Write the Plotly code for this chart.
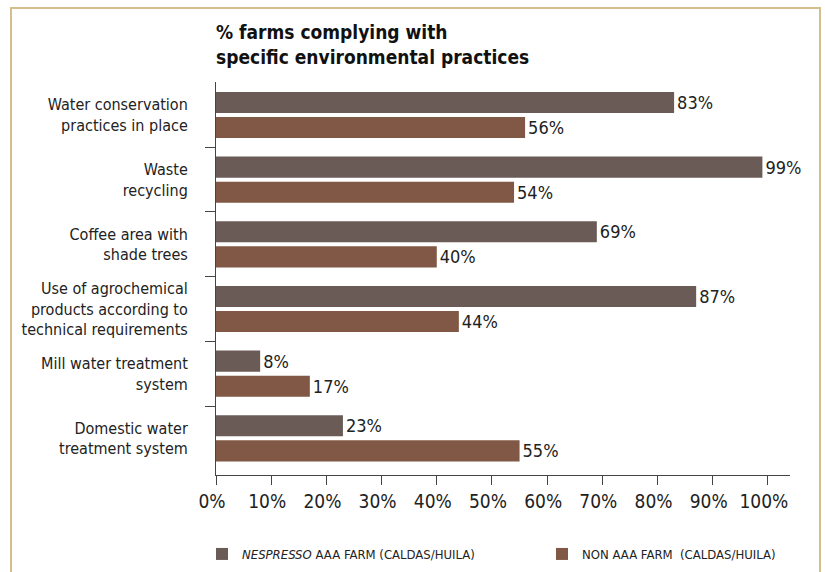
import plotly.graph_objects as go

categories = [
    "Water conservation<br>practices in place",
    "Waste<br>recycling",
    "Coffee area with<br>shade trees",
    "Use of agrochemical<br>products according to<br>technical requirements",
    "Mill water treatment<br>system",
    "Domestic water<br>treatment system",
]
aaa_values = [83, 99, 69, 87, 8, 23]
non_aaa_values = [56, 54, 40, 44, 17, 55]
series_names = ["<i>NESPRESSO</i> AAA FARM (CALDAS/HUILA)", "NON AAA FARM  (CALDAS/HUILA)"]
x_ticks = [0, 10, 20, 30, 40, 50, 60, 70, 80, 90, 100]
x_tick_labels = [f"{v}%" for v in x_ticks]

FONT = "Liberation Sans Narrow, DejaVu Sans Condensed, Arial Narrow, sans-serif"
positions = list(range(len(categories)))

W, H = 825, 572
L, R, T, B = 216, 35, 82, 97
PW, PH = W - L - R, H - T - B

fig = go.Figure()
for name, vals, color, leg in [
    (series_names[0], aaa_values, "#6a5b57", "legend"),
    (series_names[1], non_aaa_values, "#805845", "legend2"),
]:
    fig.add_trace(go.Bar(
        y=positions, x=vals, orientation="h", name=name,
        marker=dict(color=color, line=dict(width=0)),
        text=[f"{v}%" for v in vals], textposition="outside",
        textfont=dict(family=FONT, size=18, color="#222222"),
        cliponaxis=False, legend=leg,
    ))

legend_common = dict(
    orientation="h", xref="container", yref="container",
    xanchor="left", yanchor="middle", y=1 - 554 / H,
    font=dict(family=FONT, size=13, color="#222222"),
    itemclick=False, bgcolor="rgba(0,0,0,0)",
)

fig.update_layout(
    width=W, height=H,
    margin=dict(l=L, r=R, t=T, b=B),
    paper_bgcolor="white", plot_bgcolor="white",
    barmode="group", bargap=0.225, bargroupgap=0.16,
    font=dict(family=FONT, size=16, color="#222222"),
    title=dict(
        text="<b>% farms complying with<br>specific environmental practices</b>",
        x=L / W, xanchor="left", xref="container",
        y=1 - 39 / H, yanchor="top", yref="container",
        pad=dict(t=0, b=0, l=0, r=0),
        font=dict(family=FONT, size=19, color="#111111"),
    ),
    showlegend=True,
    legend=dict(legend_common, x=202 / W),
    legend2=dict(legend_common, x=542 / W),
    xaxis=dict(
        range=[0, 104], tickvals=x_ticks, ticktext=x_tick_labels,
        showgrid=False, zeroline=False,
        showline=True, linecolor="#444444", linewidth=1,
        ticks="outside", ticklen=9, tickcolor="#444444",
        ticklabelshift=-4,
        tickfont=dict(family=FONT, size=19, color="#222222"),
    ),
    yaxis=dict(
        range=[5.567, -0.51], tickvals=positions, ticktext=categories,
        showgrid=False, zeroline=False,
        showline=True, linecolor="#444444", linewidth=1,
        ticks="", ticklabelstandoff=24,
        tickfont=dict(family=FONT, size=16, color="#222222"),
        minor=dict(tickvals=[p + 0.5 for p in positions[:-1]], ticks="outside",
                   ticklen=10, tickcolor="#444444", showgrid=False),
    ),
)

fig.add_shape(type="rect", xref="paper", yref="paper",
              x0=(11 - L) / PW, x1=(820 - L) / PW,
              y0=-(600 - (H - B)) / PH, y1=((H - B) - 8) / PH,
              line=dict(color="#d6bd8c", width=2), layer="below")

fig.write_html("out.html")
